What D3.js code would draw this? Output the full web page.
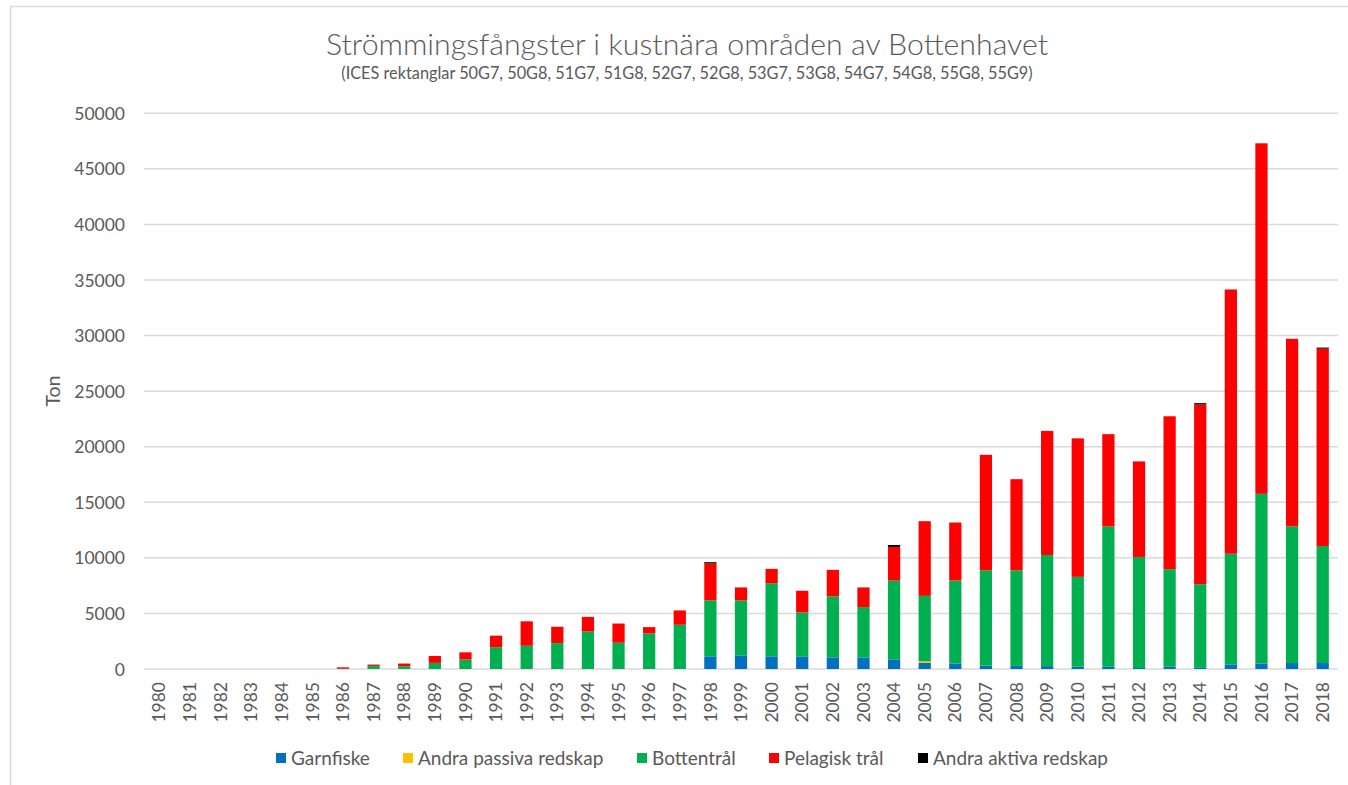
<!DOCTYPE html>
<html><head><meta charset="utf-8">
<script src="https://cdn.jsdelivr.net/npm/d3@7"></script>
<style>html,body{margin:0;padding:0;background:#fff;overflow:hidden}</style>
</head><body>
<svg id="chart" width="1348" height="785"></svg>
<script>
const years = d3.range(1980, 2019).map(String);
const seriesNames = ["Garnfiske", "Andra passiva redskap", "Bottentrål", "Pelagisk trål", "Andra aktiva redskap"];
const seriesColors = ["#0070C0", "#FFC000", "#00B050", "#FF0000", "#000000"];
// values in ton, 1980..2018
const garnfiske = [0,0,0,0,0,0,0,0,0,0,0,0,0,0,0,0,0,0,1140,1230,1140,1140,1050,1050,870,540,500,300,280,260,210,200,90,200,100,420,500,540,540];
const andraPassiva = [0,0,0,0,0,0,0,0,0,0,0,0,0,0,0,0,0,0,0,0,0,0,0,0,0,150,0,0,0,0,0,0,0,0,0,0,0,0,0];
const bottentral = [0,0,0,0,0,0,20,280,250,550,860,1960,2090,2330,3370,2360,3200,3980,5030,4940,6580,3950,5480,4520,7080,5890,7460,8580,8600,10000,8080,12630,9990,8780,7530,9950,15260,12290,10520];
const pelagisk = [0,0,0,0,0,0,130,120,240,620,640,1040,2200,1470,1320,1730,570,1290,3320,1170,1290,1950,2390,1770,3030,6720,5220,10390,8200,11160,12460,8300,8600,13760,16170,23780,31540,16880,17760];
const andraAktiva = [0,0,0,0,0,0,0,0,0,0,0,0,0,0,0,0,0,0,120,0,0,0,0,0,180,0,0,0,0,0,0,0,0,0,120,0,0,0,100];
const yTicks = [0,5000,10000,15000,20000,25000,30000,35000,40000,45000,50000];

const seriesValues = [garnfiske, andraPassiva, bottentral, pelagisk, andraAktiva];
const table = years.map((y, i) => {
  const o = {year: y};
  seriesNames.forEach((s, k) => o[s] = seriesValues[k][i]);
  return o;
});

const svg = d3.select("#chart");
const font = "Lato, 'Open Sans', sans-serif";
const textColor = "#595959";

svg.append("rect").attr("x", 10.5).attr("y", 6.5).attr("width", 1400).attr("height", 900)
  .attr("fill", "none").attr("stroke", "#D9D9D9").attr("stroke-width", 1.5);

const x = d3.scaleBand().domain(years).range([144, 1338]).paddingInner(0.6).paddingOuter(0.3);
const y = d3.scaleLinear().domain([0, 50000]).range([669, 113.3]);

// gridlines
svg.append("g").selectAll("line").data(yTicks).join("line")
  .attr("x1", 144).attr("x2", 1338)
  .attr("y1", d => y(d)).attr("y2", d => y(d))
  .attr("stroke", "#D9D9D9").attr("stroke-width", 1.5);

// y axis labels
const yAxis = d3.axisLeft(y).tickValues(yTicks).tickSize(0).tickPadding(0).tickFormat(d3.format("d"));
const gy = svg.append("g").attr("transform", "translate(125,0)").call(yAxis);
gy.select(".domain").remove();
gy.selectAll("text").attr("font-family", font).attr("font-size", 17.5).attr("fill", textColor).attr("dy", "0.35em");

// x axis labels
const xAxis = d3.axisBottom(x).tickSize(0).tickPadding(0);
const gx = svg.append("g").attr("transform", "translate(0,682)").call(xAxis);
gx.select(".domain").remove();
gx.selectAll("text").attr("font-family", font).attr("font-size", 17.5).attr("fill", textColor)
  .attr("transform", "rotate(-90)").attr("text-anchor", "end").attr("x", 0).attr("y", 0).attr("dy", "0.35em");

// stacked bars
const stack = d3.stack().keys(seriesNames);
const stacked = stack(table);
svg.append("g").selectAll("g").data(stacked).join("g")
  .attr("fill", (d, i) => seriesColors[i])
  .selectAll("rect").data(d => d).join("rect")
  .attr("x", d => x(d.data.year))
  .attr("width", x.bandwidth())
  .attr("y", d => y(d[1]))
  .attr("height", d => Math.max(0, y(d[0]) - y(d[1])));

// title
svg.append("text").attr("x", 687).attr("y", 55).attr("text-anchor", "middle")
  .attr("font-family", font).attr("font-weight", 300).attr("font-size", 30.3).attr("fill", textColor)
  .text("Strömmingsfångster i kustnära områden av Bottenhavet");
svg.append("text").attr("x", 687).attr("y", 79).attr("text-anchor", "middle")
  .attr("font-family", font).attr("font-size", 16.3).attr("fill", textColor)
  .text("(ICES rektanglar 50G7, 50G8, 51G7, 51G8, 52G7, 52G8, 53G7, 53G8, 54G7, 54G8, 55G8, 55G9)");

// y title
svg.append("text").attr("transform", "translate(60,391) rotate(-90)").attr("text-anchor", "middle")
  .attr("font-family", font).attr("font-size", 19.5).attr("fill", textColor).text("Ton");

// legend
const legendX = [276, 403, 637, 769, 918];
const lg = svg.append("g").selectAll("g").data(seriesNames).join("g")
  .attr("transform", (d, i) => `translate(${legendX[i]},758)`);
lg.append("rect").attr("x", 0).attr("y", -5).attr("width", 10).attr("height", 10)
  .attr("fill", (d, i) => seriesColors[i]);
lg.append("text").attr("x", 15).attr("y", 0).attr("dy", "0.35em")
  .attr("font-family", font).attr("font-size", 19).attr("fill", textColor).text(d => d);
</script>
</body></html>
